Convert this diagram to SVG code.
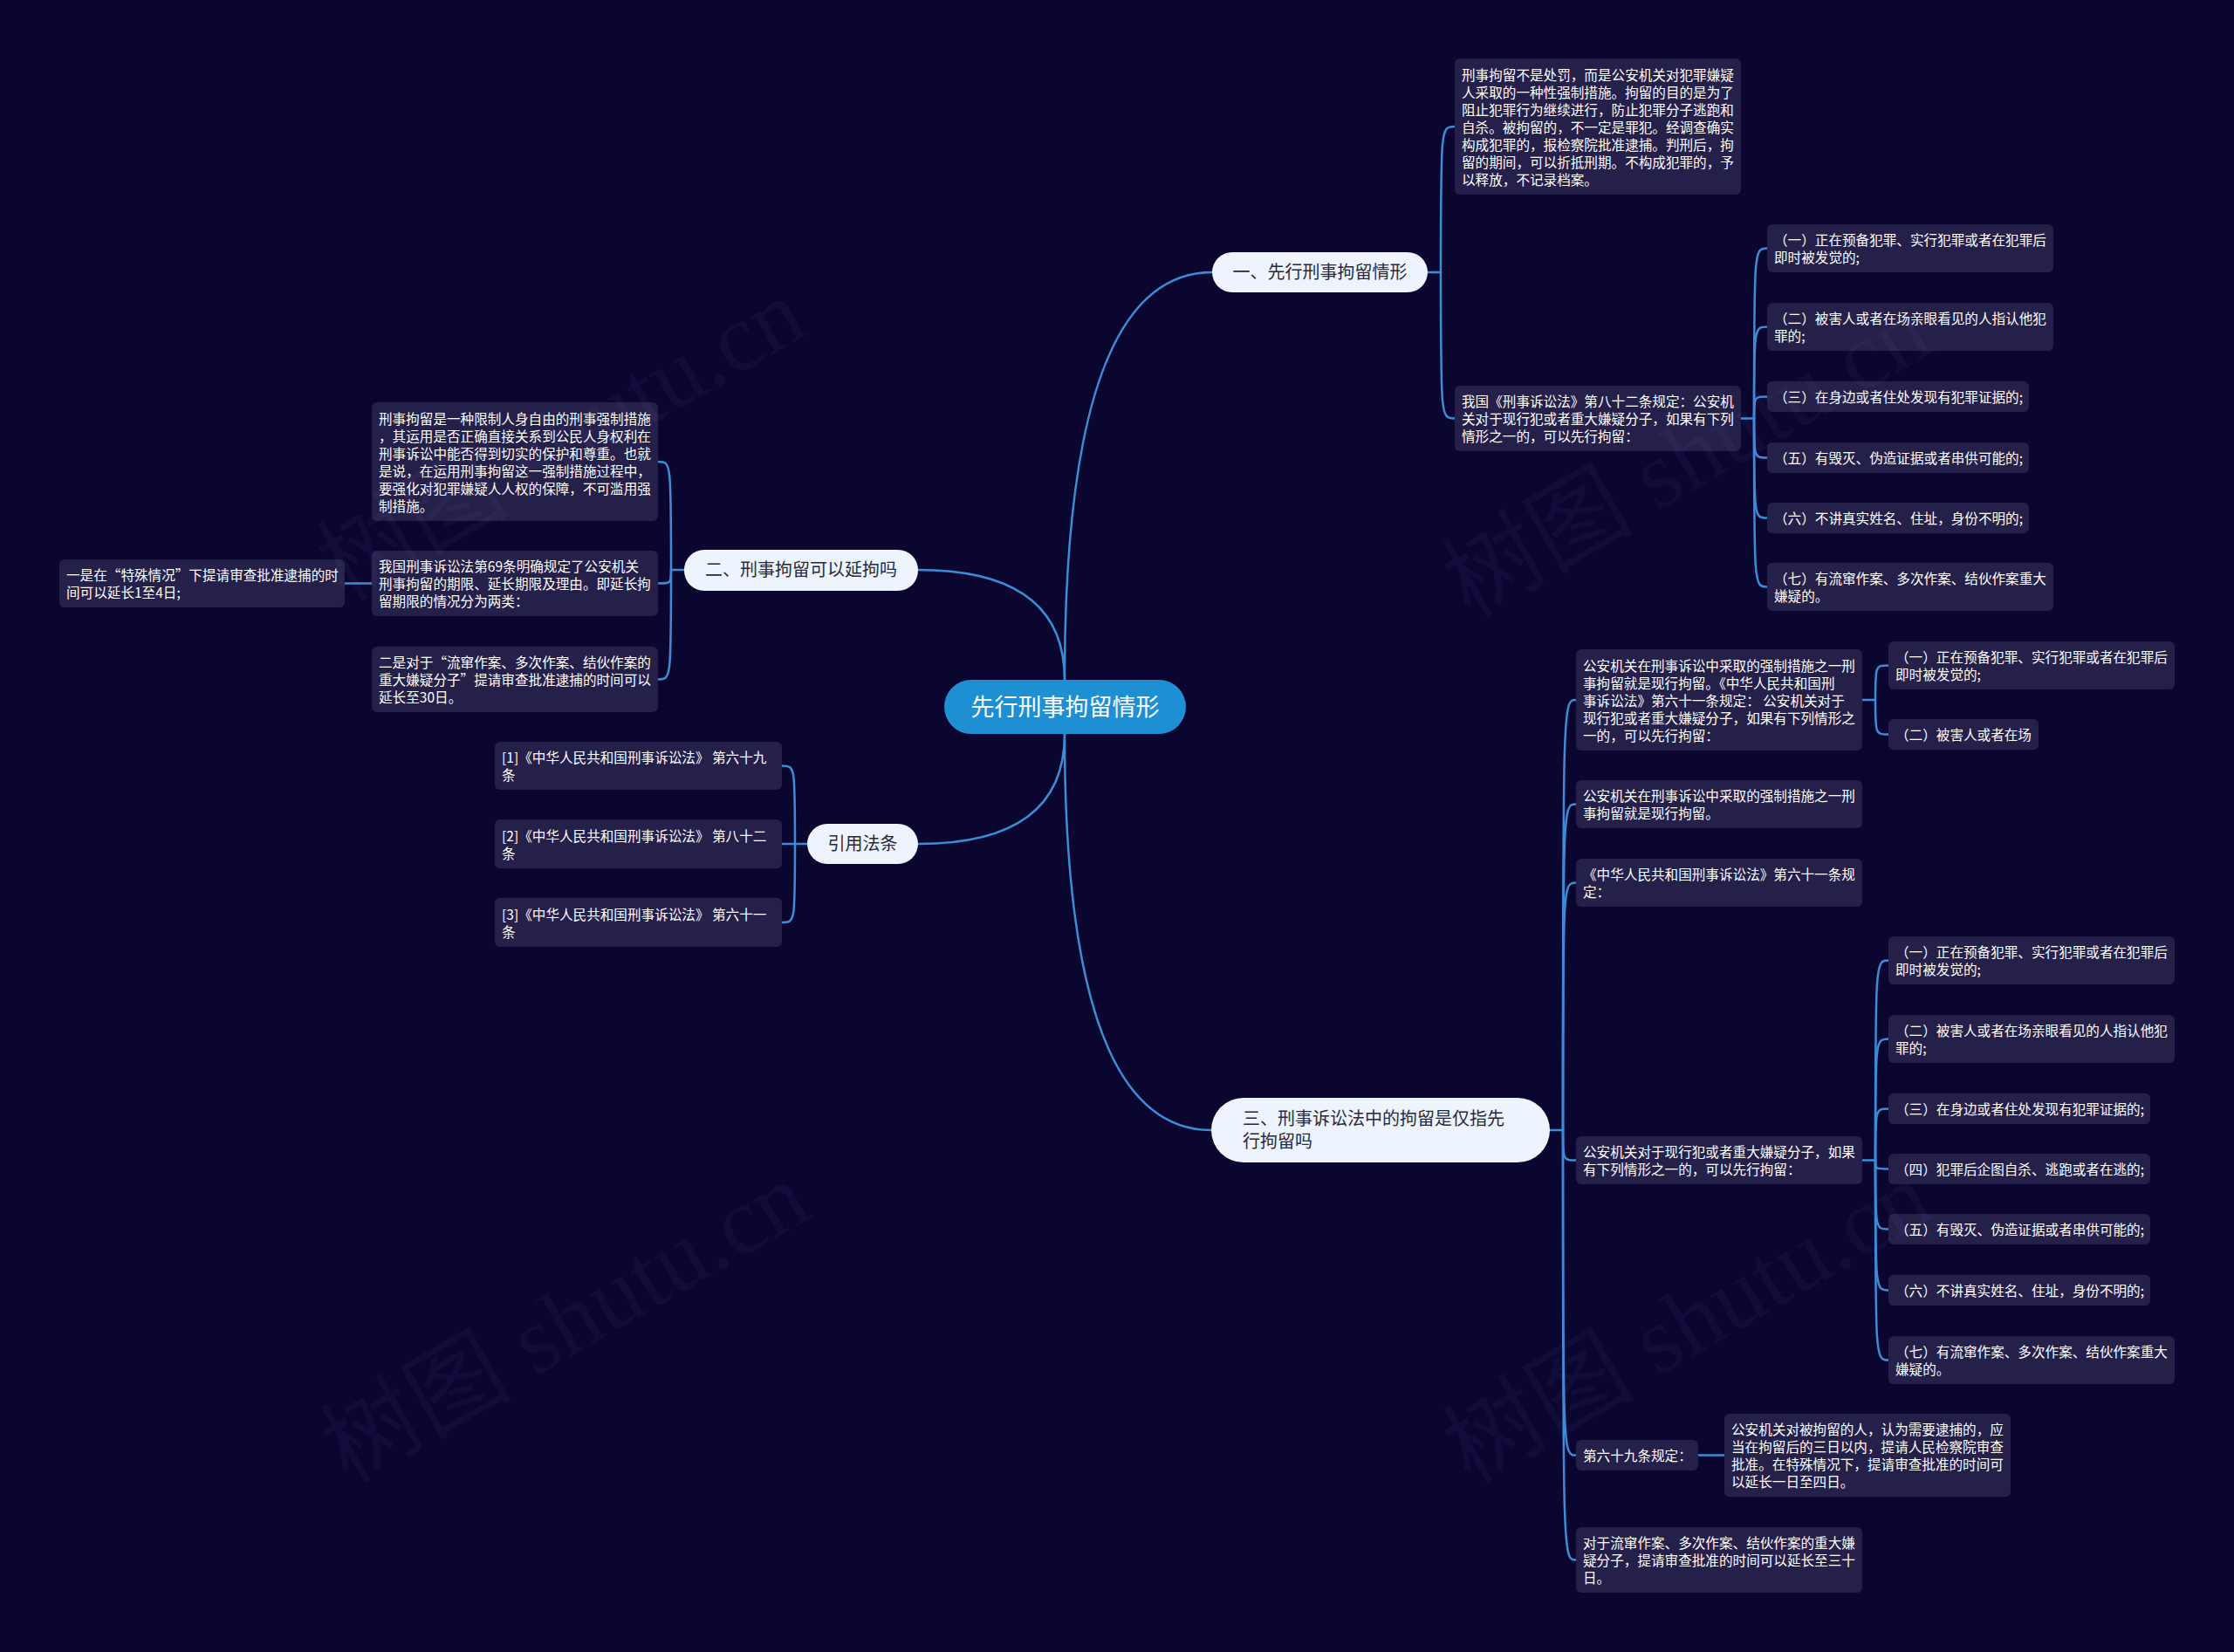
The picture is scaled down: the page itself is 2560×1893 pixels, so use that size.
<svg xmlns="http://www.w3.org/2000/svg" width="2560" height="1893" viewBox="0 0 2560 1893">
<style>
.bg{fill:#0b0630}
.box{fill:#25204a}
.lt{fill:#ffffff;font-family:"Noto Sans CJK SC","Noto Sans",sans-serif;font-size:15.6px}
.bn{fill:#eef4fd}
.bt{fill:#2a2a36;font-family:"Noto Sans CJK SC","Noto Sans",sans-serif;font-size:20px}
.ct{fill:#ffffff;font-family:"Noto Sans CJK SC","Noto Sans",sans-serif;font-size:27px}
.ln{fill:none;stroke:#3a8dd6;stroke-width:2.5;stroke-linecap:round}
.wm{fill:#9090ff;fill-opacity:0.05;font-family:"Liberation Serif","Noto Sans CJK SC",serif;font-size:110px}
</style>
<rect class="bg" x="0" y="0" width="2560" height="1893"/>

<g id="connectors">
<path class="ln" d="M1220 779 Q1220 312 1389 312"/>
<path class="ln" d="M1220 779 Q1220 653 1052 653"/>
<path class="ln" d="M1220 841 Q1220 967 1052 967"/>
<path class="ln" d="M1220 841 Q1220 1295 1388 1295"/>
<!-- branch 1 -->
<path class="ln" d="M1636 312 H1651"/>
<path class="ln" d="M1651 312 C1651 145 1651 145 1667 145"/>
<path class="ln" d="M1651 312 C1651 479.5 1651 479.5 1667 479.5"/>
<path class="ln" d="M1995 479.5 H2010"/>
<path class="ln" d="M2010 479.5 C2010 284.5 2010 284.5 2025 284.5"/>
<path class="ln" d="M2010 479.5 C2010 374.5 2010 374.5 2025 374.5"/>
<path class="ln" d="M2010 479.5 C2010 454.5 2010 454.5 2025 454.5"/>
<path class="ln" d="M2010 479.5 C2010 524.5 2010 524.5 2025 524.5"/>
<path class="ln" d="M2010 479.5 C2010 593.5 2010 593.5 2025 593.5"/>
<path class="ln" d="M2010 479.5 C2010 672.5 2010 672.5 2025 672.5"/>
<!-- branch 2 -->
<path class="ln" d="M784 653 H769"/>
<path class="ln" d="M769 653 C769 529 769 529 754 529"/>
<path class="ln" d="M769 653 C769 668.5 769 668.5 754 668.5"/>
<path class="ln" d="M769 653 C769 778.5 769 778.5 754 778.5"/>
<path class="ln" d="M426 668.5 H395"/>
<!-- citations -->
<path class="ln" d="M925 967 H896"/>
<path class="ln" d="M911 967 C911 877.5 911 877.5 896 877.5"/>
<path class="ln" d="M911 967 C911 1057 911 1057 896 1057"/>
<!-- branch 3 -->
<path class="ln" d="M1776 1295 H1791"/>
<path class="ln" d="M1791 1295 C1791 802 1791 802 1806 802"/>
<path class="ln" d="M1791 1295 C1791 921.5 1791 921.5 1806 921.5"/>
<path class="ln" d="M1791 1295 C1791 1011.5 1791 1011.5 1806 1011.5"/>
<path class="ln" d="M1791 1295 C1791 1329.5 1791 1329.5 1806 1329.5"/>
<path class="ln" d="M1791 1295 C1791 1667.5 1791 1667.5 1806 1667.5"/>
<path class="ln" d="M1791 1295 C1791 1787.5 1791 1787.5 1806 1787.5"/>
<path class="ln" d="M2134 802 H2149"/>
<path class="ln" d="M2149 802 C2149 762.5 2149 762.5 2164 762.5"/>
<path class="ln" d="M2149 802 C2149 841.5 2149 841.5 2164 841.5"/>
<path class="ln" d="M2134 1329.5 H2149"/>
<path class="ln" d="M2149 1329.5 C2149 1100.5 2149 1100.5 2164 1100.5"/>
<path class="ln" d="M2149 1329.5 C2149 1190.5 2149 1190.5 2164 1190.5"/>
<path class="ln" d="M2149 1329.5 C2149 1270.5 2149 1270.5 2164 1270.5"/>
<path class="ln" d="M2149 1329.5 C2149 1339.5 2149 1339.5 2164 1339.5"/>
<path class="ln" d="M2149 1329.5 C2149 1408.5 2149 1408.5 2164 1408.5"/>
<path class="ln" d="M2149 1329.5 C2149 1478.5 2149 1478.5 2164 1478.5"/>
<path class="ln" d="M2149 1329.5 C2149 1558.5 2149 1558.5 2164 1558.5"/>
<path class="ln" d="M1946 1667.5 H1976"/>
</g>

<g id="root">
<rect x="1082" y="779" width="277" height="62" rx="31" fill="#1f8fd3"/>
<text class="ct" x="1220.5" y="819.5" text-anchor="middle">先行刑事拘留情形</text>
</g>

<g id="b1">
<rect class="bn" x="1389" y="289" width="247" height="46" rx="23"/>
<text class="bt" x="1512.5" y="319" text-anchor="middle">一、先行刑事拘留情形</text>
</g>
<g id="b2">
<rect class="bn" x="784" y="630" width="268" height="47" rx="23"/>
<text class="bt" x="918" y="660" text-anchor="middle">二、刑事拘留可以延拘吗</text>
</g>
<g id="b4">
<rect class="bn" x="925" y="944" width="127" height="46" rx="23"/>
<text class="bt" x="988.5" y="974" text-anchor="middle">引用法条</text>
</g>
<g id="b3">
<rect class="bn" x="1388" y="1258" width="388" height="74" rx="37"/>
<text class="bt"><tspan x="1424" y="1289">三、刑事诉讼法中的拘留是仅指先</tspan><tspan x="1424" y="1315">行拘留吗</tspan></text>
</g>

<g id="t1">
<rect class="box" x="1667" y="67" width="328" height="156" rx="6"/>
<text class="lt"><tspan x="1675" y="92">刑事拘留不是处罚，而是公安机关对犯罪嫌疑</tspan><tspan x="1675" y="112">人采取的一种性强制措施。拘留的目的是为了</tspan><tspan x="1675" y="132">阻止犯罪行为继续进行，防止犯罪分子逃跑和</tspan><tspan x="1675" y="152">自杀。被拘留的，不一定是罪犯。经调查确实</tspan><tspan x="1675" y="172">构成犯罪的，报检察院批准逮捕。判刑后，拘</tspan><tspan x="1675" y="192">留的期间，可以折抵刑期。不构成犯罪的，予</tspan><tspan x="1675" y="212">以释放，不记录档案。</tspan></text>
</g>
<g id="t2">
<rect class="box" x="1667" y="442" width="328" height="75" rx="6"/>
<text class="lt"><tspan x="1675" y="466">我国《刑事诉讼法》第八十二条规定：公安机</tspan><tspan x="1675" y="486">关对于现行犯或者重大嫌疑分子，如果有下列</tspan><tspan x="1675" y="506">情形之一的，可以先行拘留：</tspan></text>
</g>
<g id="s1">
<rect class="box" x="2025" y="257" width="328" height="55" rx="6"/>
<text class="lt"><tspan x="2033" y="281">（一）正在预备犯罪、实行犯罪或者在犯罪后</tspan><tspan x="2033" y="301">即时被发觉的;</tspan></text>
</g>
<g id="s2">
<rect class="box" x="2025" y="347" width="328" height="55" rx="6"/>
<text class="lt"><tspan x="2033" y="371">（二）被害人或者在场亲眼看见的人指认他犯</tspan><tspan x="2033" y="391">罪的;</tspan></text>
</g>
<g id="s3">
<rect class="box" x="2025" y="437" width="300" height="35" rx="6"/>
<text class="lt" x="2033" y="461">（三）在身边或者住处发现有犯罪证据的;</text>
</g>
<g id="s5">
<rect class="box" x="2025" y="507" width="300" height="35" rx="6"/>
<text class="lt" x="2033" y="531">（五）有毁灭、伪造证据或者串供可能的;</text>
</g>
<g id="s6">
<rect class="box" x="2025" y="576" width="300" height="35" rx="6"/>
<text class="lt" x="2033" y="600">（六）不讲真实姓名、住址，身份不明的;</text>
</g>
<g id="s7">
<rect class="box" x="2025" y="645" width="328" height="55" rx="6"/>
<text class="lt"><tspan x="2033" y="669">（七）有流窜作案、多次作案、结伙作案重大</tspan><tspan x="2033" y="689">嫌疑的。</tspan></text>
</g>

<g id="l1">
<rect class="box" x="426" y="461" width="328" height="136" rx="6"/>
<text class="lt"><tspan x="434" y="485.5">刑事拘留是一种限制人身自由的刑事强制措施</tspan><tspan x="434" y="505.5">，其运用是否正确直接关系到公民人身权利在</tspan><tspan x="434" y="525.5">刑事诉讼中能否得到切实的保护和尊重。也就</tspan><tspan x="434" y="545.5">是说，在运用刑事拘留这一强制措施过程中，</tspan><tspan x="434" y="565.5">要强化对犯罪嫌疑人人权的保障，不可滥用强</tspan><tspan x="434" y="585.5">制措施。</tspan></text>
</g>
<g id="l2">
<rect class="box" x="426" y="631" width="328" height="75" rx="6"/>
<text class="lt"><tspan x="434" y="655">我国刑事诉讼法第69条明确规定了公安机关</tspan><tspan x="434" y="675">刑事拘留的期限、延长期限及理由。即延长拘</tspan><tspan x="434" y="695">留期限的情况分为两类：</tspan></text>
</g>
<g id="l3">
<rect class="box" x="426" y="741" width="328" height="75" rx="6"/>
<text class="lt"><tspan x="434" y="765">二是对于“流窜作案、多次作案、结伙作案的</tspan><tspan x="434" y="785">重大嫌疑分子”提请审查批准逮捕的时间可以</tspan><tspan x="434" y="805">延长至30日。</tspan></text>
</g>
<g id="ll">
<rect class="box" x="68" y="641" width="327" height="55" rx="6"/>
<text class="lt"><tspan x="76" y="665">一是在“特殊情况”下提请审查批准逮捕的时</tspan><tspan x="76" y="685">间可以延长1至4日;</tspan></text>
</g>

<g id="c1">
<rect class="box" x="567" y="850" width="329" height="55" rx="6"/>
<text class="lt"><tspan x="575" y="874">[1]《中华人民共和国刑事诉讼法》 第六十九</tspan><tspan x="575" y="894">条</tspan></text>
</g>
<g id="c2">
<rect class="box" x="567" y="939" width="329" height="56" rx="6"/>
<text class="lt"><tspan x="575" y="963.5">[2]《中华人民共和国刑事诉讼法》 第八十二</tspan><tspan x="575" y="983.5">条</tspan></text>
</g>
<g id="c3">
<rect class="box" x="567" y="1029" width="329" height="56" rx="6"/>
<text class="lt"><tspan x="575" y="1053.5">[3]《中华人民共和国刑事诉讼法》 第六十一</tspan><tspan x="575" y="1073.5">条</tspan></text>
</g>

<g id="a">
<rect class="box" x="1806" y="744" width="328" height="116" rx="6"/>
<text class="lt"><tspan x="1814" y="768.5">公安机关在刑事诉讼中采取的强制措施之一刑</tspan><tspan x="1814" y="788.5">事拘留就是现行拘留。《中华人民共和国刑</tspan><tspan x="1814" y="808.5">事诉讼法》第六十一条规定： 公安机关对于</tspan><tspan x="1814" y="828.5">现行犯或者重大嫌疑分子，如果有下列情形之</tspan><tspan x="1814" y="848.5">一的，可以先行拘留：</tspan></text>
</g>
<g id="a1">
<rect class="box" x="2164" y="735" width="328" height="55" rx="6"/>
<text class="lt"><tspan x="2172" y="759">（一）正在预备犯罪、实行犯罪或者在犯罪后</tspan><tspan x="2172" y="779">即时被发觉的;</tspan></text>
</g>
<g id="a2">
<rect class="box" x="2164" y="824" width="172" height="35" rx="6"/>
<text class="lt" x="2172" y="848">（二）被害人或者在场</text>
</g>
<g id="bb">
<rect class="box" x="1806" y="894" width="328" height="55" rx="6"/>
<text class="lt"><tspan x="1814" y="918">公安机关在刑事诉讼中采取的强制措施之一刑</tspan><tspan x="1814" y="938">事拘留就是现行拘留。</tspan></text>
</g>
<g id="cc">
<rect class="box" x="1806" y="984" width="328" height="55" rx="6"/>
<text class="lt"><tspan x="1814" y="1008">《中华人民共和国刑事诉讼法》第六十一条规</tspan><tspan x="1814" y="1028">定：</tspan></text>
</g>
<g id="d">
<rect class="box" x="1806" y="1302" width="328" height="55" rx="6"/>
<text class="lt"><tspan x="1814" y="1326">公安机关对于现行犯或者重大嫌疑分子，如果</tspan><tspan x="1814" y="1346">有下列情形之一的，可以先行拘留：</tspan></text>
</g>
<g id="d1">
<rect class="box" x="2164" y="1073" width="328" height="55" rx="6"/>
<text class="lt"><tspan x="2172" y="1097">（一）正在预备犯罪、实行犯罪或者在犯罪后</tspan><tspan x="2172" y="1117">即时被发觉的;</tspan></text>
</g>
<g id="d2">
<rect class="box" x="2164" y="1163" width="328" height="55" rx="6"/>
<text class="lt"><tspan x="2172" y="1187">（二）被害人或者在场亲眼看见的人指认他犯</tspan><tspan x="2172" y="1207">罪的;</tspan></text>
</g>
<g id="d3">
<rect class="box" x="2164" y="1253" width="300" height="35" rx="6"/>
<text class="lt" x="2172" y="1277">（三）在身边或者住处发现有犯罪证据的;</text>
</g>
<g id="d4">
<rect class="box" x="2164" y="1322" width="300" height="35" rx="6"/>
<text class="lt" x="2172" y="1346">（四）犯罪后企图自杀、逃跑或者在逃的;</text>
</g>
<g id="d5">
<rect class="box" x="2164" y="1391" width="300" height="35" rx="6"/>
<text class="lt" x="2172" y="1415">（五）有毁灭、伪造证据或者串供可能的;</text>
</g>
<g id="d6">
<rect class="box" x="2164" y="1461" width="300" height="35" rx="6"/>
<text class="lt" x="2172" y="1485">（六）不讲真实姓名、住址，身份不明的;</text>
</g>
<g id="d7">
<rect class="box" x="2164" y="1531" width="328" height="55" rx="6"/>
<text class="lt"><tspan x="2172" y="1555">（七）有流窜作案、多次作案、结伙作案重大</tspan><tspan x="2172" y="1575">嫌疑的。</tspan></text>
</g>
<g id="e">
<rect class="box" x="1806" y="1650" width="140" height="35" rx="6"/>
<text class="lt" x="1814" y="1674">第六十九条规定：</text>
</g>
<g id="g">
<rect class="box" x="1976" y="1620" width="328" height="95" rx="6"/>
<text class="lt"><tspan x="1984" y="1644">公安机关对被拘留的人，认为需要逮捕的，应</tspan><tspan x="1984" y="1664">当在拘留后的三日以内，提请人民检察院审查</tspan><tspan x="1984" y="1684">批准。在特殊情况下，提请审查批准的时间可</tspan><tspan x="1984" y="1704">以延长一日至四日。</tspan></text>
</g>
<g id="f">
<rect class="box" x="1806" y="1750" width="328" height="75" rx="6"/>
<text class="lt"><tspan x="1814" y="1774">对于流窜作案、多次作案、结伙作案的重大嫌</tspan><tspan x="1814" y="1794">疑分子，提请审查批准的时间可以延长至三十</tspan><tspan x="1814" y="1814">日。</tspan></text>
</g>

<g id="watermarks">
<text class="wm" x="645" y="540" text-anchor="middle" transform="rotate(-30 645 506)">树图 shutu.cn</text>
<text class="wm" x="1935" y="560" text-anchor="middle" transform="rotate(-30 1935 527)">树图 shutu.cn</text>
<text class="wm" x="649" y="1552" text-anchor="middle" transform="rotate(-30 649 1518)">树图 shutu.cn</text>
<text class="wm" x="1935" y="1552" text-anchor="middle" transform="rotate(-30 1935 1518)">树图 shutu.cn</text>
</g>
</svg>
